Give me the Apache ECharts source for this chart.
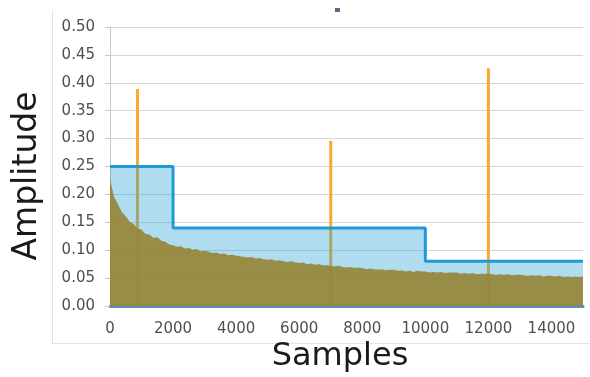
<!DOCTYPE html>
<html><head><meta charset="utf-8">
<script src="https://cdn.jsdelivr.net/npm/echarts@6/dist/echarts.min.js"></script>
<style>html,body{margin:0;padding:0;background:#fff}#c{width:590px;height:377px}</style>
</head><body><div id="c"></div>
<script>
// Noisy decaying signal (olive area), sampled every 125 samples
const signalStep = 125;
const signalValues = [
  0.228, 0.196, 0.183, 0.168, 0.161, 0.151, 0.147, 0.139,
  0.137, 0.129, 0.128, 0.122, 0.123, 0.117, 0.115, 0.110,
  0.109, 0.106, 0.107, 0.103, 0.104, 0.101, 0.102, 0.098,
  0.099, 0.097, 0.095, 0.096, 0.093, 0.094, 0.091, 0.092,
  0.090, 0.089, 0.088, 0.087, 0.088, 0.085, 0.086, 0.084,
  0.083, 0.084, 0.081, 0.082, 0.080, 0.079, 0.080, 0.078,
  0.077, 0.078, 0.075, 0.076, 0.074, 0.075, 0.073, 0.073,
  0.072, 0.071, 0.072, 0.070, 0.069, 0.070, 0.068, 0.069,
  0.068, 0.066, 0.067, 0.066, 0.065, 0.066, 0.064, 0.065,
  0.065, 0.063, 0.064, 0.062, 0.063, 0.061, 0.063, 0.062,
  0.062, 0.060, 0.061, 0.060, 0.061, 0.059, 0.060, 0.060,
  0.060, 0.058, 0.059, 0.058, 0.059, 0.057, 0.058, 0.058,
  0.058, 0.057, 0.056, 0.057, 0.056, 0.057, 0.055, 0.056,
  0.056, 0.055, 0.054, 0.055, 0.054, 0.055, 0.053, 0.054,
  0.054, 0.053, 0.054, 0.052, 0.053, 0.052, 0.053, 0.052,
  0.053
];
// Threshold steps (blue)
const thresholdX = [0, 2000, 10000, 15000];
const thresholdY = [0.25, 0.14, 0.08, 0.08];
// Spikes (orange)
const spikeX = [870, 7000, 12000];
const spikeY = [0.389, 0.296, 0.426];
// Axis ticks
const yTicks = [0, 0.05, 0.10, 0.15, 0.20, 0.25, 0.30, 0.35, 0.40, 0.45, 0.50];
const xTicks = [0, 2000, 4000, 6000, 8000, 10000, 12000, 14000];

const signalData = signalValues.map((v, i) => [i * signalStep, v]);
const thresholdData = thresholdX.map((x, i) => [x, thresholdY[i]]);
const spikeData = spikeX.map((x, i) => [x, spikeY[i]]);

const chart = echarts.init(document.getElementById('c'), null, {renderer: 'canvas'});
const labelFont = {color: '#4f4f4f', fontSize: 15, fontFamily: 'DejaVu Sans'};
chart.setOption({
  animation: false,
  backgroundColor: '#fff',
  grid: {left: 110, right: 7, top: 27, bottom: 71},
  xAxis: {
    type: 'value', min: 0, max: 15000, interval: 2000,
    axisLine: {show: true, onZero: false, lineStyle: {color: '#5592b4', width: 3}},
    axisTick: {show: false},
    splitLine: {show: false},
    axisLabel: Object.assign({margin: 16, showMaxLabel: false,
      formatter: v => xTicks.indexOf(v) >= 0 ? String(v) : ''}, labelFont)
  },
  yAxis: {
    type: 'value', min: 0, max: 0.5, interval: 0.05,
    axisLine: {show: true, lineStyle: {color: '#c8c8c8', width: 1}},
    axisTick: {show: true, length: 5, lineStyle: {color: '#c8c8c8'}},
    splitLine: {show: true, lineStyle: {color: '#d6d6d6', width: 1}},
    axisLabel: Object.assign({margin: 15,
      formatter: v => { const t = yTicks.find(k => Math.abs(k - v) < 1e-9); return t === undefined ? '' : t.toFixed(2); }}, labelFont)
  },
  series: [
    {
      type: 'line', data: thresholdData, step: 'end', symbol: 'none', z: 2,
      lineStyle: {color: '#1e9ad6', width: 3},
      areaStyle: {color: 'rgba(30,155,212,0.5)', origin: 'start'}
    },
    {
      type: 'bar', data: spikeData, barWidth: 3, z: 1,
      itemStyle: {color: '#f6aa2e'}
    },
    {
      type: 'line', data: signalData, symbol: 'none', z: 3,
      lineStyle: {width: 0, color: '#968a3c'},
      areaStyle: {color: 'rgb(150,133,56)', opacity: 0.92, origin: 'start'}
    }
  ],
  graphic: [
    {type: 'line', shape: {x1: 52.5, y1: 10, x2: 52.5, y2: 343}, style: {stroke: '#e4e4e4', lineWidth: 1}, z: -1},
    {type: 'line', shape: {x1: 52, y1: 343.5, x2: 590, y2: 343.5}, style: {stroke: '#e4e4e4', lineWidth: 1}, z: -1},
    {type: 'text', x: 27, y: 176, rotation: Math.PI / 2,
      style: {text: 'Amplitude', font: '33px "DejaVu Sans"', fill: '#1a1a1a', textAlign: 'center', textVerticalAlign: 'middle'}},
    {type: 'text', x: 340, y: 357,
      style: {text: 'Samples', font: '32px "DejaVu Sans"', fill: '#1a1a1a', textAlign: 'center', textVerticalAlign: 'middle'}},
    {type: 'rect', shape: {x: 335, y: 8, width: 5, height: 4}, style: {fill: '#5a6b8a'}}
  ]
});
</script></body></html>
